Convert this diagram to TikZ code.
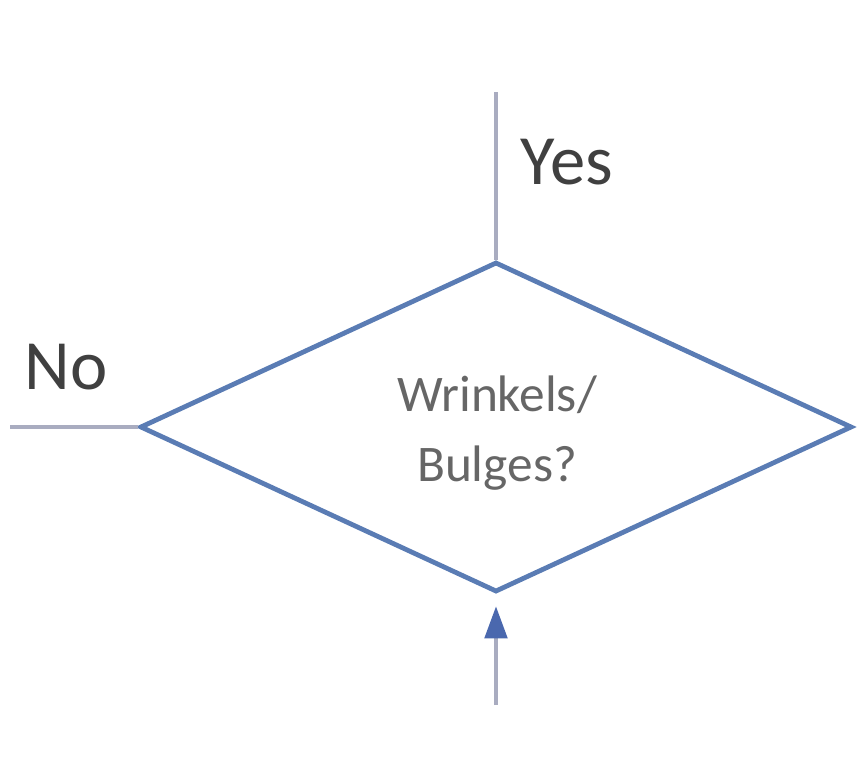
\documentclass[tikz,border=0pt]{standalone}
\usepackage{fontspec}
\setmainfont{Carlito}
\usetikzlibrary{shapes.geometric}
\usetikzlibrary{positioning, arrows.meta}

\definecolor{edgeblue}{HTML}{5A7CB4}
\definecolor{linegray}{HTML}{A9ACC0}
\definecolor{tipblue}{HTML}{4A68AE}

\tikzset{
    decision/.style={draw=edgeblue, line width=3.6pt, diamond, inner sep=0pt,
        minimum width=534pt, minimum height=247.5pt},
    question/.style={text=black!60, align=center, font=\fontsize{38.5}{52}\selectfont},
    branch/.style={draw=linegray, line width=2.4pt},
    answer/.style={text=black!75, font=\fontsize{53}{60}\selectfont}
}

\begin{document}
\begin{tikzpicture}[x=0.75pt, y=-0.75pt]
    \useasboundingbox (0,0) rectangle (864,782);
    \node[decision] (check) at (496,427) {};
    \node[question] (ask) at (497,433) {Wrinkels/\\Bulges?};

    % loose ends of the branches
    \coordinate (yesend) at (496,92);
    \coordinate (noend) at (10,427);
    \coordinate (inflow) at (496,705);

    \draw[branch] (check.north) -- (yesend);
    \draw[branch] (check.west) -- (noend);
    \draw[branch, -{Triangle[length=24pt, width=17pt, color=tipblue]}, shorten >=9pt] (inflow) -- (check.south);

    \node[answer] (yes) at (567,162) {Yes};
    \node[answer] (no) at (66,367) {No};
\end{tikzpicture}
\end{document}
